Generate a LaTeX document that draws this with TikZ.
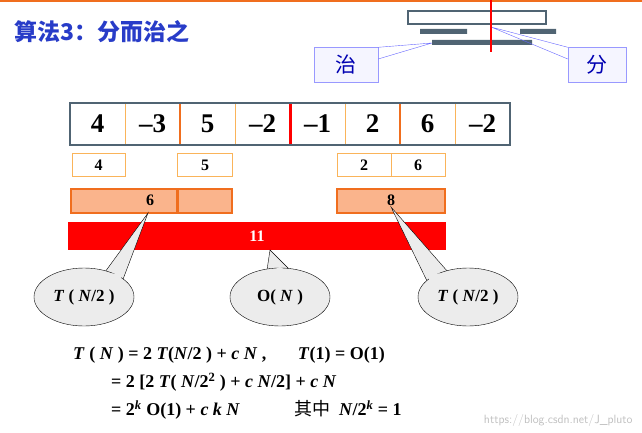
\documentclass[tikz,border=0pt]{standalone}
\usepackage{fontspec}
\setmainfont{Liberation Serif}
\newfontfamily\cjk{Noto Sans CJK SC}
\usetikzlibrary{shapes.geometric}
\definecolor{titleblue}{RGB}{40,60,200}
\definecolor{slate}{RGB}{80,100,115}
\definecolor{lorange}{RGB}{250,180,90}
\definecolor{dorange}{RGB}{240,110,30}
\definecolor{salmon}{RGB}{250,180,140}
\newcommand{\fs}[1]{\fontsize{#1}{#1}\selectfont}
\tikzset{
 cell/.style={minimum width=55pt,minimum height=42pt,inner sep=0,font=\bfseries\fs{27}},
 small/.style={draw=lorange,line width=1pt,fill=white,inner sep=0,font=\bfseries\fs{16}},
 mid/.style={draw=dorange,line width=2pt,fill=salmon,inner sep=0,font=\bfseries\fs{16}},
 bubble/.style={draw=black,fill=gray!15,ellipse,minimum width=100pt,minimum height=58pt,inner sep=0,font=\bfseries\fs{17}},
 lab/.style={draw=blue!40,fill=blue!4,minimum width=64pt,minimum height=35pt,font=\cjk\fs{21},text=blue!70!black},
 eq/.style={anchor=west,inner sep=0,font=\bfseries\fs{18}}
}
\begin{document}
\begin{tikzpicture}[x=1pt,y=-1pt]
\useasboundingbox (0,0) rectangle (642,433);
\draw[dorange,line width=1.5pt] (0,1) -- (642,1);
\node[anchor=west,inner sep=0,text=titleblue,font=\cjk\bfseries\fs{23}] (title) at (14,32) {算法\textbf{3}：分而治之};
% icon
\draw[slate,line width=2pt,fill=white] (408,11) rectangle (546,24);
\fill[slate] (420,29) rectangle (467,34) (520,29) rectangle (556,34) (432,40) rectangle (532,45);
\coordinate (zhiT) at (432,43); \coordinate (fenT) at (491,27);
\node[lab] (zhi) at (346,65) {治};
\node[lab,minimum width=58pt] (fen) at (597,65) {分};
\draw[blue!60] (zhi.north east) -- (zhiT) (zhi.east) ++(0,-6) -- (zhiT);
\draw[blue!60] (fen.north west) -- (fenT) (fen.west) ++(0,-6) -- (fenT);
\draw[red,line width=2pt] (491,0) -- (491,52);
% array
\foreach \v [count=\i] in {4,--3,5,--2,--1,2,6,--2}
  \node[cell] (c\i) at (70+55*\i-27.5,124) {\v};
\foreach \i/\c/\w in {1/lorange/1,2/dorange/2.5,3/lorange/1,4/red/3,5/lorange/1,6/dorange/2.5,7/lorange/1}
  \draw[\c,line width=\w pt] (c\i.north east) -- (c\i.south east);
\draw[slate,line width=2pt] (70,103) rectangle (510,145);
% row 2
\node[small,minimum width=53pt,minimum height=23pt] (a4) at (98.5,165) {4};
\node[small,minimum width=55pt,minimum height=23pt] (a5) at (205,165) {5};
\node[small,minimum width=54pt,minimum height=23pt] (a2) at (364,165) {2};
\node[small,minimum width=54pt,minimum height=23pt] (a6) at (418,165) {6};
% row 3
\node[mid,minimum width=106pt,minimum height=24pt] (b6) at (124,200.5) {\hspace*{52pt}6};
\node[mid,minimum width=54pt,minimum height=24pt] (b0) at (205,200.5) {};
\node[mid,minimum width=108pt,minimum height=24pt] (b8) at (391,200.5) {8};
% red bar
\node[fill=red,minimum width=378pt,minimum height=28pt,inner sep=0,text=white,font=\bfseries\fs{16}] (r11) at (257,236) {11};
% bubbles
\coordinate (p1) at (148,213); \coordinate (p2) at (270,250); \coordinate (p3) at (391,207);
\fill[gray!15,draw=black] (105,272) -- (p1) -- (122,282) -- cycle;
\fill[gray!15,draw=black] (267,270) -- (p2) -- (290,270) -- cycle;
\fill[gray!15,draw=black] (448,272) -- (p3) -- (428,283) -- cycle;
\node[bubble] (e1) at (84,297) {\textit{T} ( \textit{N}/2 )};
\node[bubble] (e2) at (280,297) {O( \textit{N} )};
\node[bubble] (e3) at (468,297) {\textit{T} ( \textit{N}/2 )};
\fill[gray!15] (106,273) -- (121,280) -- (121,274) -- cycle;
\fill[gray!15] (268,272) -- (289,272) -- (280,267) -- cycle;
\fill[gray!15] (447,273) -- (429,281) -- (429,274) -- cycle;
% equations
\node[eq] (l1) at (73,355) {\textit{T} ( \textit{N} ) = 2 \textit{T}(\textit{N}/2 ) + \textit{c N} ,\quad\ \ \ \textit{T}(1) = O(1)};
\node[eq] (l2) at (111,382) {= 2 [2 \textit{T}( \textit{N}/2\textsuperscript{2} ) + \textit{c N}/2] + \textit{c N}};
\node[eq] (l3) at (111,410) {= 2\textsuperscript{\textit{k}} O(1) + \textit{c k N}\qquad\quad {\cjk\mdseries 其中}\ \ \textit{N}/2\textsuperscript{\textit{k}} = 1};
\node[anchor=east,text=gray!50,font=\sffamily\fs{12}] (wm) at (636,420) {https://blog.csdn.net/J\_pluto};
\end{tikzpicture}
\end{document}
